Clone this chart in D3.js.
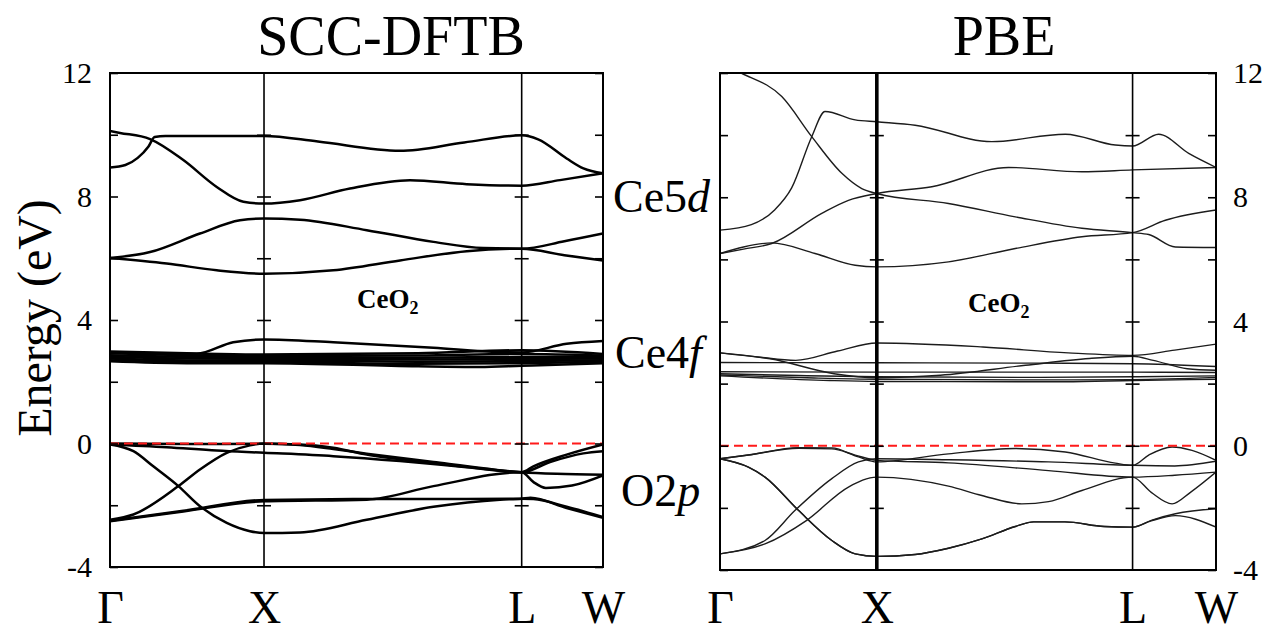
<!DOCTYPE html>
<html>
<head>
<meta charset="utf-8">
<script src="https://cdn.jsdelivr.net/npm/d3@7"></script>
<style>
  body { margin: 0; background: #fff; }
  text { font-family: "Liberation Serif", "Times New Roman", serif; fill: #000; }
</style>
</head>
<body>
<script>
// k-path labels and positions (in units of the Gamma-X length)
var kLabels = ["Γ", "X", "L", "W"]
var kTicksDFTB = [0, 1, 2.673, 3.201]
var kTicksPBE = [0, 1, 2.631, 3.163]

var energyTicks = [-4, -2, 0, 2, 4, 6, 8, 10, 12]
var energyLabels = [-4, 0, 4, 8, 12]

// SCC-DFTB bands, [k, E(eV)]
var dftbCond = [
  [[0,8.94],[0.1,9.02],[0.18,9.25],[0.25,9.62],[0.29,9.93],[0.36,9.96],[1,9.96],[1.35,9.78],[1.883,9.48],[2.3,9.75],[2.673,9.98],[2.78,9.85],[2.965,9.23],[3.074,8.91],[3.201,8.75]],
  [[0,10.12],[0.065,10.06],[0.26,9.86],[0.476,9.18],[0.693,8.31],[0.866,7.83],[1,7.77],[1.234,7.88],[1.558,8.26],[1.948,8.53],[2.316,8.40],[2.673,8.35],[2.922,8.53],[3.201,8.75]],
  [[0,6.01],[0.26,6.2],[0.584,6.80],[0.844,7.23],[1,7.29],[1.234,7.25],[1.667,6.91],[2.1,6.53],[2.424,6.33],[2.673,6.31],[2.95,6.55],[3.201,6.80]],
  [[0,6.01],[0.368,5.83],[0.693,5.61],[1,5.50],[1.45,5.61],[1.883,5.93],[2.316,6.23],[2.673,6.31],[2.95,6.1],[3.201,5.93]]
]
var dftbF = [
  [[0,2.95],[0.3,2.92],[0.563,2.91],[0.8,3.28],[1,3.37],[1.45,3.28],[2.1,3.10],[2.53,2.96],[2.673,2.95],[2.965,3.23],[3.201,3.32]],
  [[0,2.98],[0.5,2.92],[1,2.88],[2,2.92],[2.673,3.02],[3.201,2.9]],
  [[0,2.92],[0.5,2.86],[1,2.83],[2,2.85],[2.673,2.9],[3.201,2.85]],
  [[0,2.86],[0.5,2.8],[1,2.78],[2,2.78],[2.673,2.8],[3.201,2.8]],
  [[0,2.8],[0.5,2.75],[1,2.74],[2,2.72],[2.673,2.74],[3.201,2.75]],
  [[0,2.75],[0.5,2.69],[1,2.69],[2,2.65],[2.673,2.67],[3.201,2.7]],
  [[0,2.7],[0.5,2.64],[1,2.64],[2,2.58],[2.673,2.6],[3.201,2.65]],
  [[0,2.66],[0.5,2.6],[1,2.6],[2,2.5],[2.4,2.48],[2.673,2.52],[3.201,2.6]]
]
var dftbVal = [
  [[0,-0.03],[0.368,-0.12],[0.693,-0.23],[1,-0.3],[1.45,-0.41],[1.883,-0.57],[2.316,-0.77],[2.673,-0.93],[2.857,-0.6],[3.074,-0.32],[3.201,-0.25]],
  [[0,0],[0.5,-0.02],[1,-0.01],[1.234,-0.03],[1.45,-0.14],[1.667,-0.36],[2.1,-0.63],[2.424,-0.82],[2.673,-0.93],[2.9,-0.98],[3.201,-1.01]],
  [[0,-2.47],[0.152,-2.3],[0.444,-1.38],[0.584,-0.84],[0.758,-0.30],[0.909,-0.06],[1,0],[1.234,-0.05],[1.45,-0.18],[1.667,-0.33],[2.1,-0.6],[2.424,-0.8],[2.673,-0.93],[2.749,-0.74],[2.965,-0.36],[3.201,-0.03]],
  [[0,-0.03],[0.152,-0.25],[0.281,-0.74],[0.444,-1.38],[0.584,-2.03],[0.758,-2.57],[0.909,-2.84],[1,-2.9],[1.234,-2.88],[1.667,-2.47],[2.1,-2.05],[2.532,-1.82],[2.673,-1.79],[2.73,-1.76],[2.965,-2.09],[3.201,-2.41]],
  [[0,-2.52],[0.476,-2.2],[1,-1.87],[1.667,-1.82],[2.1,-1.38],[2.673,-0.93],[2.75,-1.25],[2.83,-1.44],[3.0,-1.36],[3.201,-1.03]],
  [[0,-2.5],[0.476,-2.18],[1,-1.83],[1.667,-1.8],[2.1,-1.8],[2.673,-1.79],[2.749,-1.8],[2.965,-2.05],[3.201,-2.38]]
]

// PBE bands, [k, E(eV)]
var pbeCond = [
  [[0,12.3],[0.138,11.99],[0.394,11.24],[0.585,9.95],[0.777,8.77],[0.904,8.28],[1,8.12],[1.457,7.80],[1.883,7.37],[2.308,7.0],[2.631,6.86],[2.734,6.8],[2.904,6.40],[3.163,6.38]],
  [[0,6.94],[0.2,7.12],[0.35,7.6],[0.457,8.3],[0.585,9.95],[0.67,10.76],[0.862,10.49],[1,10.43],[1.244,10.32],[1.734,9.79],[2.202,10.03],[2.521,9.68],[2.631,9.65],[2.797,10.03],[2.989,9.41],[3.163,8.96]],
  [[0,6.19],[0.15,6.33],[0.33,6.51],[0.649,7.48],[0.819,7.90],[1,8.12],[1.351,8.34],[1.840,8.96],[2.308,8.82],[2.631,8.88],[3.163,8.96]],
  [[0,6.19],[0.15,6.4],[0.33,6.53],[0.606,6.19],[0.862,5.81],[1,5.76],[1.457,5.92],[1.883,6.35],[2.308,6.73],[2.631,6.86],[2.84,7.26],[3.163,7.59]]
]
var pbeF = [
  [[0,2.99],[0.25,2.85],[0.483,2.75],[0.75,3.05],[1,3.31],[1.677,3.18],[2.22,2.99],[2.633,2.91],[2.9,3.08],[3.163,3.27]],
  [[0,2.99],[0.32,2.8],[0.727,2.32],[1,2.19],[1.405,2.27],[1.948,2.59],[2.356,2.81],[2.633,2.88],[2.763,2.75],[2.98,2.48],[3.163,2.43]],
  [[0,2.68],[1,2.67],[2,2.66],[2.633,2.64],[3.163,2.55]],
  [[0,2.38],[1,2.37],[2.633,2.37],[3.163,2.36]],
  [[0,2.32],[0.5,2.26],[1,2.22],[1.948,2.2],[2.633,2.22],[3.163,2.25]],
  [[0,2.28],[0.6,2.18],[1,2.14],[2,2.12],[2.633,2.13],[3.163,2.2]],
  [[0,2.25],[0.7,2.1],[1,2.07],[2.2,2.06],[2.633,2.1],[3.163,2.14]]
]
var pbeVal = [
  [[0,-0.42],[0.181,-0.3],[0.5,-0.06],[0.713,-0.07],[0.883,-0.36],[1,-0.52],[1.457,-0.26],[1.883,-0.09],[2.202,-0.2],[2.521,-0.56],[2.631,-0.63],[2.734,-0.3],[2.883,-0.04],[3.01,-0.15],[3.163,-0.47]],
  [[0,-0.42],[0.181,-0.69],[0.287,-1.01],[0.5,-2.08],[0.713,-3.05],[0.862,-3.48],[1,-3.56],[1.244,-3.5],[1.457,-3.3],[1.67,-3.0],[1.883,-2.6],[2.0,-2.45],[2.2,-2.45],[2.45,-2.6],[2.631,-2.62],[2.75,-2.4],[2.904,-2.19],[3.163,-2.03]],
  [[0,-3.48],[0.287,-3.05],[0.479,-2.08],[0.713,-1.06],[0.883,-0.52],[1,-0.42],[1.457,-0.45],[2.095,-0.52],[2.631,-0.63],[2.9,-0.65],[3.163,-0.5]],
  [[0,-3.48],[0.287,-3.16],[0.553,-2.4],[0.819,-1.33],[1,-1.01],[1.457,-1.3],[1.67,-1.6],[1.925,-1.87],[2.095,-1.8],[2.308,-1.44],[2.631,-1.01],[2.75,-1.5],[2.883,-1.87],[3.0,-1.5],[3.163,-0.85]],
  [[0,-0.42],[0.181,-0.3],[0.5,-0.08],[0.713,-0.1],[0.862,-0.3],[1,-0.47],[1.457,-0.55],[2.095,-0.8],[2.631,-1.01],[2.9,-0.95],[3.163,-0.85]],
  [[0,-0.42],[0.181,-0.69],[0.287,-1.01],[0.5,-2.08],[0.713,-3.05],[0.862,-3.48],[1,-3.56],[1.244,-3.5],[1.457,-3.3],[1.67,-3.0],[1.883,-2.6],[2.0,-2.45],[2.2,-2.45],[2.45,-2.6],[2.631,-2.62],[2.75,-2.42],[2.904,-2.25],[3.163,-2.62]]
]

var serif = '"Liberation Serif", "Times New Roman", serif'

var svg = d3.select("body").append("svg")
  .attr("width", 1267)
  .attr("height", 633)
  .attr("font-family", serif)

var panels = [
  {id: "dftb", title: "SCC-DFTB", titleX: 391, left: 110, right: 603, top: 73, bottom: 567,
   ticks: kTicksDFTB, bands: dftbCond.concat(dftbF, dftbVal), lw: 2.5, color: "#000", xLineW: 1.6,
   side: "left", ceoX: 357, ceoY: 308},
  {id: "pbe", title: "PBE", titleX: 1004, left: 720, right: 1216, top: 73, bottom: 570,
   ticks: kTicksPBE, bands: pbeCond.concat(pbeF, pbeVal), lw: 1.4, color: "#1c1c1c", xLineW: 3.6,
   side: "right", ceoX: 968, ceoY: 312}
]

panels.forEach(function(p) {
  var x = d3.scaleLinear().domain([0, p.ticks[3]]).range([p.left, p.right])
  var y = d3.scaleLinear().domain([-4, 12]).range([p.bottom, p.top])
  var g = svg.append("g")

  g.append("clipPath").attr("id", "clip-" + p.id)
    .append("rect")
    .attr("x", p.left).attr("y", p.top)
    .attr("width", p.right - p.left).attr("height", p.bottom - p.top)

  // title
  g.append("text")
    .attr("x", p.titleX).attr("y", 55)
    .attr("text-anchor", "middle")
    .attr("font-size", 56)
    .text(p.title)

  // bands
  var line = d3.line()
    .x(function(d) { return x(d[0]) })
    .y(function(d) { return y(d[1]) })
    .curve(d3.curveMonotoneX)

  g.append("g")
    .attr("clip-path", "url(#clip-" + p.id + ")")
    .selectAll("path")
    .data(p.bands)
    .enter().append("path")
    .attr("d", line)
    .attr("fill", "none")
    .attr("stroke", p.color)
    .attr("stroke-width", p.lw)
    .attr("stroke-linejoin", "round")

  // Fermi level
  g.append("line")
    .attr("x1", p.left).attr("x2", p.right)
    .attr("y1", y(0)).attr("y2", y(0))
    .attr("stroke", "#ff1a1a")
    .attr("stroke-width", 2.2)
    .attr("stroke-dasharray", "9,5")

  // high symmetry lines
  g.append("line")
    .attr("x1", x(p.ticks[1])).attr("x2", x(p.ticks[1]))
    .attr("y1", p.top).attr("y2", p.bottom)
    .attr("stroke", "#000").attr("stroke-width", p.xLineW)
  g.append("line")
    .attr("x1", x(p.ticks[2])).attr("x2", x(p.ticks[2]))
    .attr("y1", p.top).attr("y2", p.bottom)
    .attr("stroke", "#000").attr("stroke-width", 1.6)

  // frame
  g.append("rect")
    .attr("x", p.left).attr("y", p.top)
    .attr("width", p.right - p.left).attr("height", p.bottom - p.top)
    .attr("fill", "none").attr("stroke", "#000").attr("stroke-width", 2)

  // energy axes, ticks inward
  var fmtL = function(d) { return p.side == "left" && energyLabels.indexOf(d) >= 0 ? String(d) : "" }
  var fmtR = function(d) { return p.side == "right" && energyLabels.indexOf(d) >= 0 ? String(d) : "" }

  var axL = g.append("g")
    .attr("transform", "translate(" + p.left + ",0)")
    .call(d3.axisLeft(y).tickValues(energyTicks).tickSizeInner(-8).tickSizeOuter(0).tickPadding(18).tickFormat(fmtL))
  var axR = g.append("g")
    .attr("transform", "translate(" + p.right + ",0)")
    .call(d3.axisRight(y).tickValues(energyTicks).tickSizeInner(-8).tickSizeOuter(0).tickPadding(17).tickFormat(fmtR))

  // cross ticks on the X and L lines
  ;[1, 2].forEach(function(i) {
    var xx = x(p.ticks[i])
    g.append("g")
      .attr("transform", "translate(" + xx + ",0)")
      .call(d3.axisLeft(y).tickValues(energyTicks.slice(1, -1)).tickSize(7).tickFormat(""))
    g.append("g")
      .attr("transform", "translate(" + xx + ",0)")
      .call(d3.axisRight(y).tickValues(energyTicks.slice(1, -1)).tickSize(7).tickFormat(""))
  })

  // k-point labels
  var axB = g.append("g")
    .attr("transform", "translate(0," + p.bottom + ")")
    .call(d3.axisBottom(x).tickValues(p.ticks).tickSize(0)
      .tickPadding(623 - 33 - p.bottom)
      .tickFormat(function(d, i) { return kLabels[i] }))

  g.selectAll(".domain").remove()
  g.selectAll(".tick line").attr("stroke", "#000").attr("stroke-width", 1.6)
  g.selectAll(".tick text").attr("font-family", serif).attr("fill", "#000")
  axL.selectAll("text").attr("font-size", 30)
  axR.selectAll("text").attr("font-size", 30)
  axB.selectAll("text").attr("font-size", 46)

  // compound label
  var ceo = g.append("text")
    .attr("x", p.ceoX).attr("y", p.ceoY)
    .attr("font-size", 27).attr("font-weight", "bold")
  ceo.append("tspan").text("CeO")
  ceo.append("tspan").attr("font-size", 18).attr("dy", 6).text("2")
})

// y axis title
svg.append("text")
  .attr("transform", "translate(51,318) rotate(-90)")
  .attr("text-anchor", "middle")
  .attr("font-size", 48)
  .text("Energy (eV)")

// orbital character labels between the panels
var ce5d = svg.append("text").attr("x", 613).attr("y", 212).attr("font-size", 46)
ce5d.append("tspan").text("Ce5")
ce5d.append("tspan").attr("font-style", "italic").text("d")

var ce4f = svg.append("text").attr("x", 615).attr("y", 368).attr("font-size", 46)
ce4f.append("tspan").text("Ce4")
ce4f.append("tspan").attr("font-style", "italic").text("f")

var o2p = svg.append("text").attr("x", 621).attr("y", 506).attr("font-size", 46)
o2p.append("tspan").text("O2")
o2p.append("tspan").attr("font-style", "italic").text("p")
</script>
</body>
</html>
